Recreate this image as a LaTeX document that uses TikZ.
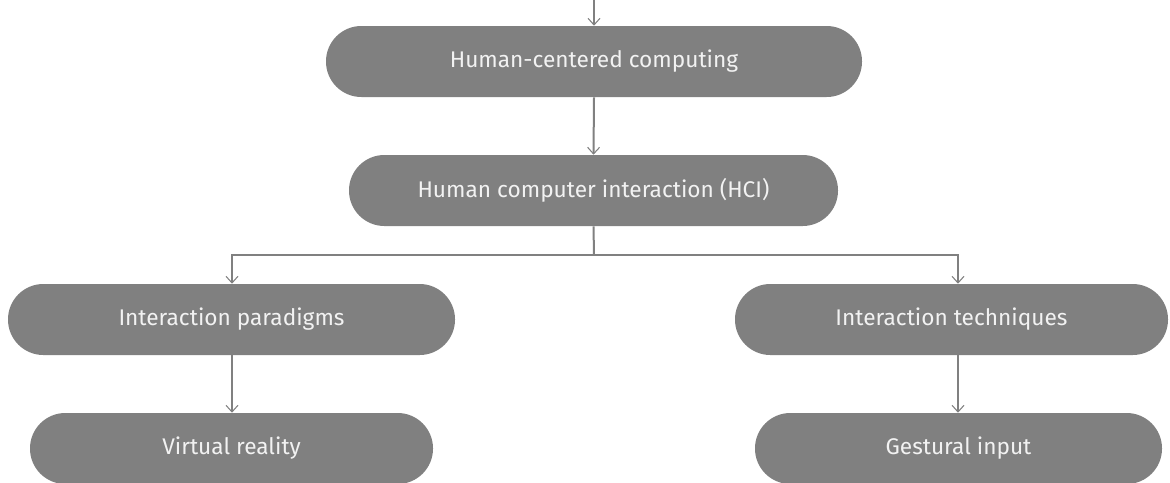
\documentclass[tikz,border=0pt]{standalone}
\usepackage{fontspec}
\setmainfont{Fira Sans}
\usetikzlibrary{arrows.meta}
\definecolor{boxgray}{HTML}{808080}
\definecolor{linegray}{HTML}{808080}
\definecolor{txt}{HTML}{F2F2F2}
\tikzset{
  pill/.style={rectangle, rounded corners=26.5pt, fill=boxgray, text=txt,
    minimum height=53.25pt, inner sep=0pt, font=\fontsize{17}{20}\selectfont},
  thick link/.style={draw=linegray, line width=1.5pt},
  thin link/.style={draw=linegray, line width=0.9pt},
  tip/.style={-{Straight Barb[length=5pt,width=9pt,line width=0.8pt]}}
}
\begin{document}
\begin{tikzpicture}[x=0.75pt,y=-0.75pt]
\useasboundingbox (0,0) rectangle (1170,482);
\node[pill, minimum width=402pt] (hcc) at (594,61.5) {Human-centered computing};
\node[pill, minimum width=366.75pt] (hci) at (593.5,190.5) {Human computer interaction (HCI)};
\node[pill, minimum width=335.25pt] (ip) at (231.5,319.5) {Interaction paradigms};
\node[pill, minimum width=324.75pt] (it) at (951.5,319.5) {Interaction techniques};
\node[pill, minimum width=302.25pt] (vr) at (231.5,448.5) {Virtual reality};
\node[pill, minimum width=305.25pt] (gi) at (958.5,448.5) {Gestural input};
\coordinate (top) at (594,0);
\coordinate (j) at (594,255);
\coordinate (jl) at (232,255);
\coordinate (jr) at (958,255);
\draw[thick link, tip] (top) -- (hcc.north);
\draw[thick link, tip] (hcc.south) -- (hci.north);
\draw[thick link] (hci.south) -- (j);
\draw[thin link, tip] (j) -- (jl) -- (jl |- ip.north);
\draw[thin link, tip] (j) -- (jr) -- (jr |- it.north);
\draw[thin link, tip] (ip.south -| jl) -- (jl |- vr.north);
\draw[thin link, tip] (it.south -| jr) -- (jr |- gi.north);
\end{tikzpicture}
\end{document}
